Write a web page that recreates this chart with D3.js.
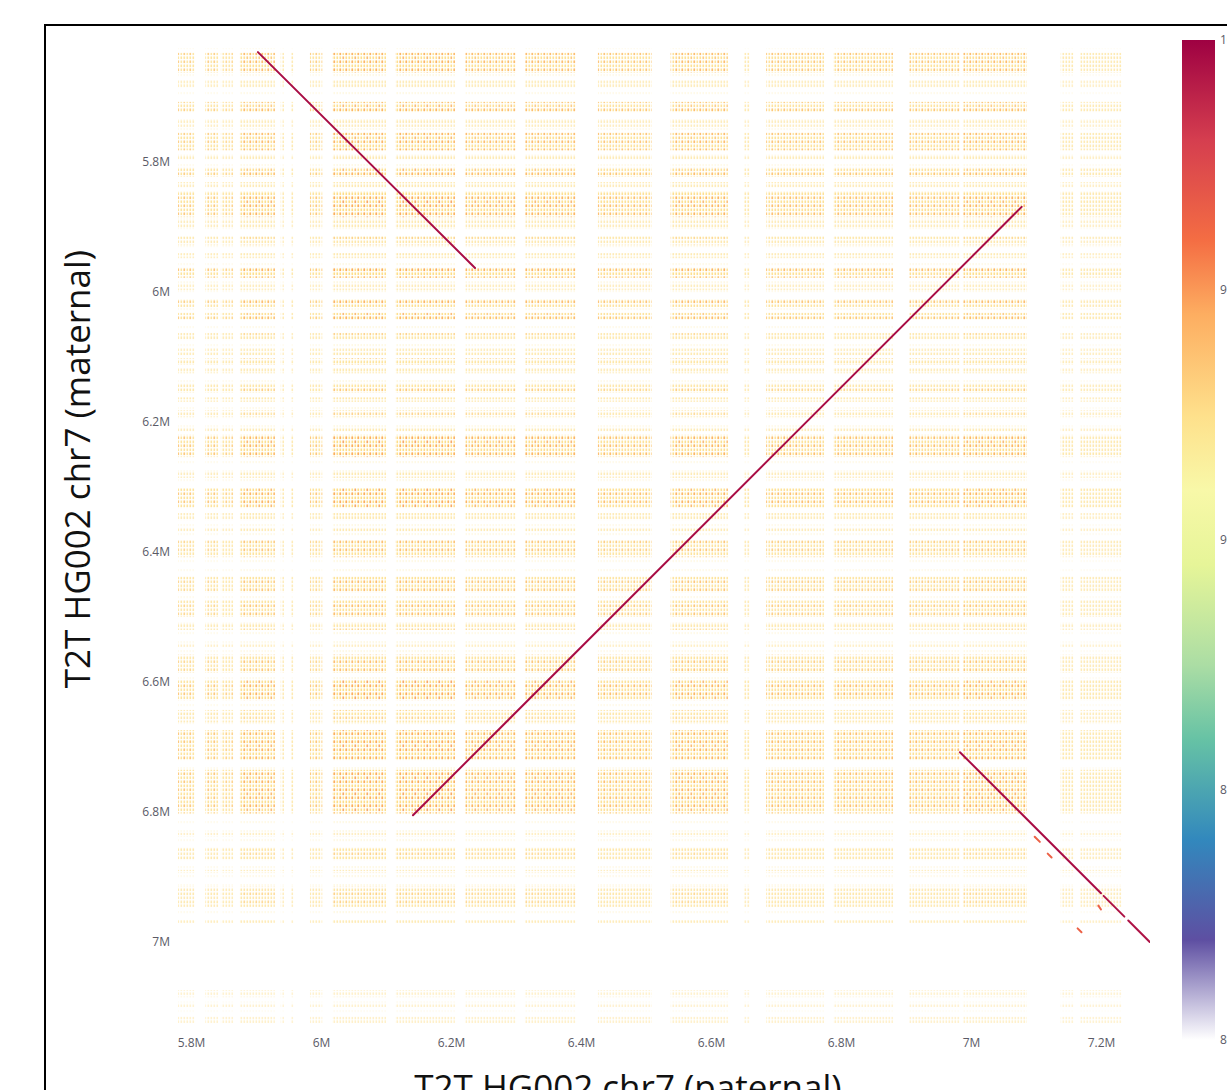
<!DOCTYPE html>
<html lang="en">
<head>
    <meta charset="UTF-8">
    <title>chr7 dot plot</title>
    <script src="https://d3js.org/d3.v7.min.js"></script>
    <style>
        body { margin: 0; background: #fff; overflow: hidden; }
        .tick text { font-family: "Open Sans", sans-serif; font-size: 12px; fill: #5a5a66; }
        .axis_title { font-family: "Open Sans", sans-serif; font-size: 35px; fill: #111; }
    </style>
</head>
<body>
<svg width="1227" height="1090"></svg>

<script>
    // positions in Mb along paternal (x) and maternal (y) chr7
    const xTicks = [5.8, 6.0, 6.2, 6.4, 6.6, 6.8, 7.0, 7.2];
    const yTicks = [5.8, 6.0, 6.2, 6.4, 6.6, 6.8, 7.0];
    const cbTicks = [80, 85, 90, 95, 100];

    // repeat blocks along x: [start, end, density]
    const colBands = [
        [5.780, 5.806, 0.7], [5.822, 5.842, 0.7], [5.846, 5.865, 0.6], [5.875, 5.929, 0.9],
        [5.938, 5.943, 0.5], [5.954, 5.958, 0.5], [5.983, 6.002, 0.7], [6.017, 6.100, 1.0],
        [6.114, 6.206, 1.0], [6.222, 6.300, 0.9], [6.314, 6.392, 0.9], [6.426, 6.509, 0.8],
        [6.538, 6.626, 0.9], [6.651, 6.660, 0.5], [6.685, 6.774, 0.8], [6.788, 6.880, 0.8],
        [6.905, 6.983, 0.8], [6.988, 7.086, 0.9], [7.138, 7.158, 0.5], [7.168, 7.232, 0.5]
    ];
    // repeat blocks along y: [start, end, density]
    const rowBands = [
        [5.632, 5.663, 0.9], [5.674, 5.686, 0.4], [5.708, 5.723, 0.9], [5.735, 5.746, 0.4],
        [5.755, 5.782, 0.9], [5.789, 5.797, 0.5], [5.808, 5.823, 0.9], [5.831, 5.840, 0.5],
        [5.846, 5.885, 1.0], [5.889, 5.900, 0.5], [5.915, 5.928, 0.6], [5.940, 5.948, 0.4],
        [5.962, 5.978, 1.0], [5.986, 5.997, 0.4], [6.012, 6.023, 0.9], [6.032, 6.043, 0.9],
        [6.063, 6.074, 0.6], [6.086, 6.097, 0.4], [6.102, 6.112, 0.7], [6.117, 6.125, 0.5],
        [6.140, 6.155, 0.7], [6.162, 6.169, 0.5], [6.182, 6.192, 0.6], [6.208, 6.215, 0.5],
        [6.220, 6.254, 1.0], [6.277, 6.286, 0.5], [6.302, 6.331, 1.0], [6.340, 6.351, 0.5],
        [6.362, 6.369, 0.5], [6.382, 6.408, 0.8], [6.438, 6.462, 0.8], [6.474, 6.500, 0.8],
        [6.509, 6.520, 0.6], [6.540, 6.546, 0.3], [6.558, 6.586, 0.8], [6.597, 6.628, 1.0],
        [6.643, 6.662, 0.6], [6.674, 6.720, 1.0], [6.735, 6.802, 1.0], [6.832, 6.838, 0.3],
        [6.854, 6.874, 0.6], [6.889, 6.894, 0.4], [6.915, 6.946, 0.6], [6.966, 6.971, 0.3],
        [7.074, 7.085, 0.1], [7.094, 7.100, 0.15], [7.115, 7.125, 0.2]
    ];
    // sparse background hits along y: [start, end]
    const sparseRows = [[5.625, 6.975], [7.068, 7.13]];

    // alignments: [xStart, yStart, xEnd, yEnd, identity]
    const alignments = [
        [5.903, 5.631, 6.237, 5.963, 99.6],
        [6.1415, 6.805, 7.078, 5.869, 99.6],
        [6.983, 6.708, 7.200, 6.925, 99.6],
        [7.204, 6.929, 7.236, 6.961, 99.4],
        [7.242, 6.967, 7.275, 7.000, 99.4],
        [7.098, 6.838, 7.106, 6.846, 96.5],
        [7.118, 6.864, 7.124, 6.870, 96.5],
        [7.196, 6.944, 7.200, 6.950, 96.5],
        [7.164, 6.979, 7.170, 6.985, 96.5]
    ];

    const svg = d3.select("svg");

    const x = d3.scaleLinear().domain([5.7754, 7.2754]).range([175, 1150]);
    const y = d3.scaleLinear().domain([5.62, 7.1354]).range([45, 1030]);

    // Spectral-like identity colour scale, fading to white at 80
    const color = d3.scaleLinear()
        .domain([80, 82, 84, 86, 87.5, 89.5, 91, 92.5, 94.5, 96, 98, 100])
        .range(["#ffffff", "#5e4fa2", "#3288bd", "#66c2a5", "#abdda4", "#e6f598",
            "#f8f8a8", "#fee08b", "#fdae61", "#f46d43", "#d53e4f", "#9e0142"]);

    const defs = svg.append("defs");

    // dot textures for the repeat hits
    function dotPattern(id, w, h, dx, dy, dw, dh, fill) {
        const p = defs.append("pattern").attr("id", id)
            .attr("patternUnits", "userSpaceOnUse").attr("width", w).attr("height", h);
        p.append("rect").attr("x", dx).attr("y", dy).attr("width", dw).attr("height", dh)
            .attr("fill", fill);
    }
    dotPattern("dotsY", 3, 4, 0.5, 0.5, 1.6, 2.6, color(92.6));
    dotPattern("dotsO", 6, 8, 3.5, 4.5, 1.6, 2.6, color(94.6));
    dotPattern("dotsR", 12, 16, 6.5, 8.5, 1.6, 2.6, color(96.2));
    dotPattern("dotsS", 3, 9, 0.5, 2, 1.4, 2.2, color(92.2));

    const clip = defs.append("clipPath").attr("id", "plotclip");
    clip.append("rect").attr("x", 175).attr("y", 45).attr("width", 975).attr("height", 985);

    const cells = [];
    colBands.forEach(c => rowBands.forEach(r => cells.push({c: c, r: r, w: c[2] * r[2]})));

    const plot = svg.append("g").attr("clip-path", "url(#plotclip)");

    function band(g, data, fill, op) {
        g.append("g").selectAll("rect")
            .data(data)
            .join("rect")
            .attr("x", d => x(d.c[0]))
            .attr("y", d => y(d.r[0]))
            .attr("width", d => x(d.c[1]) - x(d.c[0]))
            .attr("height", d => y(d.r[1]) - y(d.r[0]))
            .attr("fill", fill)
            .attr("opacity", op);
    }

    const sparse = [];
    colBands.forEach(c => sparseRows.forEach((r, i) => sparse.push({c: c, r: r, w: c[2] * (i ? 0.5 : 1)})));
    band(plot, sparse, "url(#dotsS)", d => 0.25 * d.w);
    band(plot, cells, "url(#dotsY)", d => 0.3 + 0.7 * d.w);
    band(plot, cells.filter(d => d.w > 0.5), "url(#dotsO)", d => Math.min(1, (d.w - 0.4) * 1.6));
    band(plot, cells.filter(d => d.w > 0.8), "url(#dotsR)", d => (d.w - 0.7) * 1.5);

    plot.append("g").selectAll("line")
        .data(alignments)
        .join("line")
        .attr("x1", d => x(d[0])).attr("y1", d => y(d[1]))
        .attr("x2", d => x(d[2])).attr("y2", d => y(d[3]))
        .attr("stroke", d => color(d[4]))
        .attr("stroke-width", 2)
        .attr("stroke-linecap", "round");

    // axes
    const xAxis = svg.append("g").attr("transform", "translate(0,1030)")
        .call(d3.axisBottom(x).tickValues(xTicks).tickSize(0).tickPadding(8)
            .tickFormat(d => d3.format("~s")(d * 1e6)));
    const yAxis = svg.append("g").attr("transform", "translate(175,0)")
        .call(d3.axisLeft(y).tickValues(yTicks).tickSize(0).tickPadding(5)
            .tickFormat(d => d3.format("~s")(d * 1e6)));
    xAxis.select(".domain").remove();
    yAxis.select(".domain").remove();

    svg.append("text").attr("class", "axis_title")
        .attr("text-anchor", "middle")
        .attr("transform", "translate(90,469) rotate(-90)")
        .text("T2T HG002 chr7 (maternal)");
    svg.append("text").attr("class", "axis_title")
        .attr("text-anchor", "middle")
        .attr("x", 628).attr("y", 1100)
        .text("T2T HG002 chr7 (paternal)");

    // colour bar
    const cb = d3.scaleLinear().domain([80, 100]).range([1040, 40]);
    const grad = defs.append("linearGradient").attr("id", "cbgrad")
        .attr("x1", 0).attr("y1", 1).attr("x2", 0).attr("y2", 0);
    grad.selectAll("stop")
        .data(color.domain())
        .join("stop")
        .attr("offset", d => (d - 80) / 20)
        .attr("stop-color", d => color(d));
    svg.append("rect").attr("x", 1182).attr("y", cb(100))
        .attr("width", 33).attr("height", cb(80) - cb(100))
        .attr("fill", "url(#cbgrad)");
    const cbAxis = svg.append("g").attr("transform", "translate(1215,0)")
        .call(d3.axisRight(cb).tickValues(cbTicks).tickSize(0).tickPadding(5));
    cbAxis.select(".domain").remove();

    // outer frame of the screenshot
    svg.append("rect").attr("x", 45).attr("y", 25).attr("width", 1300).attr("height", 1200)
        .attr("fill", "none").attr("stroke", "#000").attr("stroke-width", 2);
</script>
</body>
</html>
